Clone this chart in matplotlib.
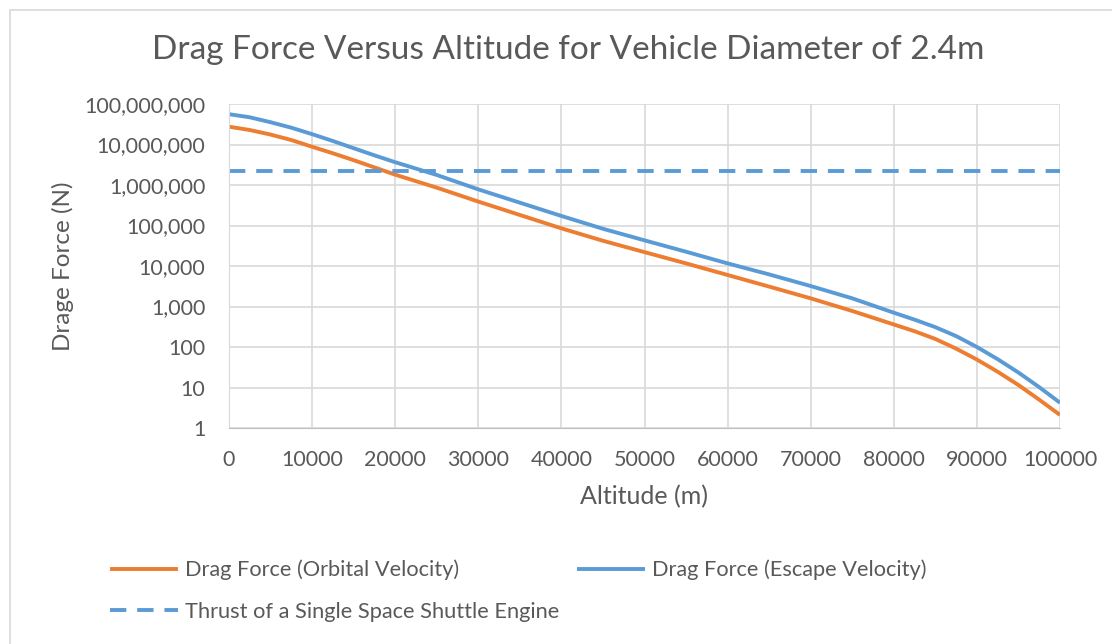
import matplotlib
matplotlib.use("Agg")
import matplotlib.pyplot as plt
import matplotlib.patches as patches
from matplotlib.ticker import FuncFormatter, FixedLocator

plt.rcParams['font.family'] = ['Lato', 'DejaVu Sans']

# altitude (m) and drag force (N)
altitude = [0, 2500, 5000, 7500, 10000, 12500, 15000, 17500, 20000, 25000, 30000, 35000,
            40000, 45000, 50000, 55000, 60000, 65000, 70000, 75000, 80000, 82500, 85000,
            87500, 90000, 92500, 95000, 97500, 100000]
drag_orbital = [2.75e7, 2.28e7, 1.76e7, 1.29e7, 8.8e6, 6.07e6, 4.1e6, 2.72e6, 1.8e6, 8.6e5,
                3.9e5, 1.82e5, 8.5e4, 4.2e4, 2.2e4, 1.16e4, 6.0e3, 3.1e3, 1.59e3, 775, 360,
                245, 158, 91, 49, 24.5, 11.5, 5.0, 2.1]
drag_escape = [5.6e7, 4.7e7, 3.55e7, 2.6e7, 1.8e7, 1.22e7, 8.1e6, 5.4e6, 3.65e6, 1.77e6,
               7.8e5, 3.66e5, 1.72e5, 8.3e4, 4.3e4, 2.25e4, 1.16e4, 6.2e3, 3.2e3, 1.59e3, 703,
               473, 309, 186, 100, 50, 23.4, 10.2, 4.2]
shuttle_thrust = 2.28e6

xticks = [0, 10000, 20000, 30000, 40000, 50000, 60000, 70000, 80000, 90000, 100000]
yticks = [1, 10, 100, 1e3, 1e4, 1e5, 1e6, 1e7, 1e8]

txt = '#595959'
grid = '#D9D9D9'
orange = '#ED7D31'
blue = '#5B9BD5'

W, H = 1112, 644
fig = plt.figure(figsize=(W/100, H/100), dpi=100)
ax = fig.add_axes([229/W, 1-428/H, (1060-229)/W, (428-104)/H])

# chart frame
fig.patches.append(patches.Rectangle((10/W, -0.1), 1.2, 1-10/H+0.1, transform=fig.transFigure,
                                     fill=False, edgecolor=grid, linewidth=1.2))

l1, = ax.plot(altitude, drag_orbital, color=orange, lw=2.8, solid_capstyle='butt',
              solid_joinstyle='round', label='Drag Force (Orbital Velocity)')
l2, = ax.plot(altitude, drag_escape, color=blue, lw=2.8, solid_capstyle='butt',
              solid_joinstyle='round', label='Drag Force (Escape Velocity)')
l3 = ax.axhline(shuttle_thrust, color=blue, lw=2.8, dashes=(4.2, 2.8),
                label='Thrust of a Single Space Shuttle Engine')

ax.set_yscale('log')
ax.set_xlim(0, 100000)
ax.set_ylim(1, 1e8)
ax.xaxis.set_major_locator(FixedLocator(xticks))
ax.yaxis.set_major_locator(FixedLocator(yticks))
ax.yaxis.set_minor_locator(FixedLocator([]))
ax.yaxis.set_major_formatter(FuncFormatter(lambda v, p: f'{int(round(v)):,}'))
ax.xaxis.set_major_formatter(FuncFormatter(lambda v, p: f'{int(v)}'))
ax.grid(True, color=grid, lw=1.2)
ax.set_axisbelow(True)
for s in ['top', 'right']:
    ax.spines[s].set_visible(False)
ax.spines['left'].set_color(grid)
ax.spines['bottom'].set_color('#BFBFBF')
ax.tick_params(length=0, colors=txt, labelsize=15.5)
ax.tick_params(axis='y', pad=17)
ax.tick_params(axis='x', pad=16)

ax.set_xlabel('Altitude (m)', color=txt, fontsize=18, va='center')
ax.xaxis.set_label_coords(0.5, (428-497)/324)
ax.set_ylabel('Drage Force (N)', color=txt, fontsize=17.5, va='center')
ax.yaxis.set_label_coords((63-229)/831, 0.5)
fig.text(568/W, 1-50/H, 'Drag Force Versus Altitude for Vehicle Diameter of 2.4m',
         ha='center', va='center', color=txt, fontsize=24)

# legend entries placed like the original two-column layout
for h, (px, py) in zip([l1, l2, l3], [(110, 570), (577, 570), (110, 612)]):
    lg = fig.legend([h], [h.get_label()], loc='center left', bbox_to_anchor=(px/W, 1-py/H),
                    frameon=False, fontsize=15.7, labelcolor=txt, handlelength=3.1,
                    handletextpad=0.36, borderpad=0, borderaxespad=0)

fig.savefig('out.png', dpi=100)
